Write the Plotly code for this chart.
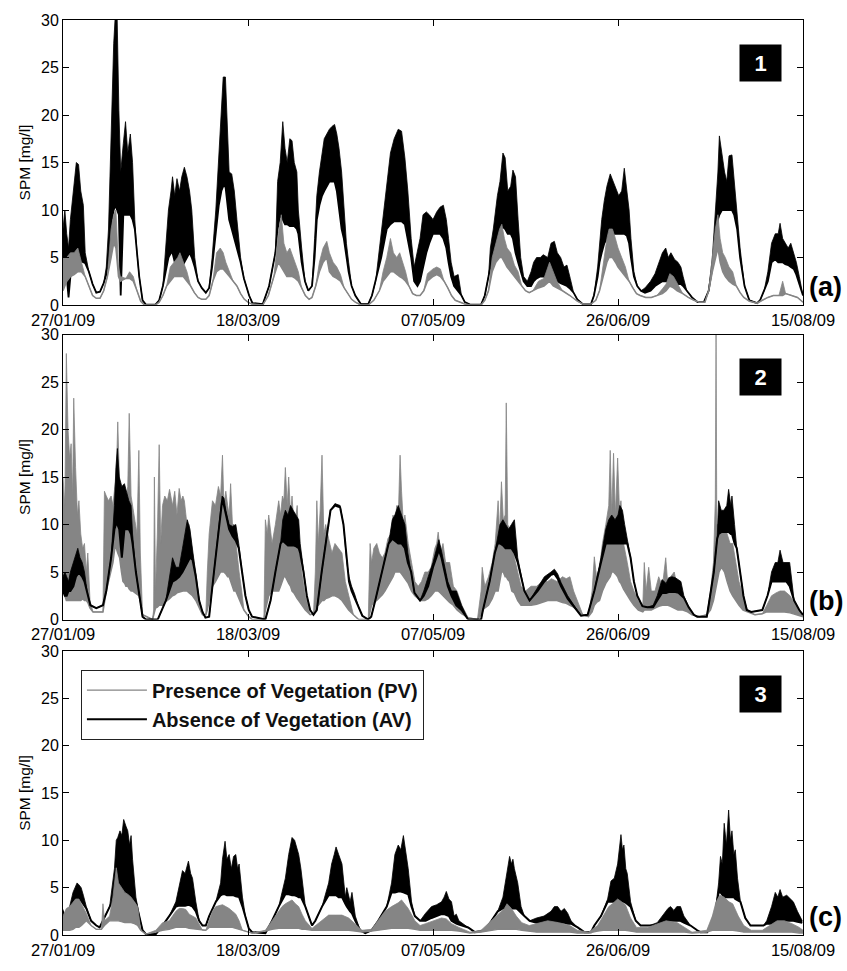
import pandas as pd
import plotly.graph_objects as go

START = pd.Timestamp("2009-01-27")
TICK_DAYS = [0, 50, 100, 150, 200]
TICK_TEXT = ["27/01/09", "18/03/09", "07/05/09", "26/06/09", "15/08/09"]
Y_TICKS = [0, 5, 10, 15, 20, 25, 30]
NAME_PV = "Presence of Vegetation (PV)"
NAME_AV = "Absence of Vegetation (AV)"
PANEL_NUMBERS = ["1", "2", "3"]
PANEL_LETTERS = ["(a)", "(b)", "(c)"]

# (day since 27/01/09, low-water SPM, high-water SPM) in mg/l
p1_av = [(0,4,8),(0.5,3.5,10),(1,3,7.5),(1.5,0.8,6),(2,3,9),(2.5,3.5,11),(3,4,13),(3.6,4.5,15),(4.2,4.5,14.8),(4.8,4.6,12),(5.5,4.5,10.5),(6,4.4,5.5),(7,3.5,3.5),(8,2.2,2.2),(9,1.3,1.3),(10,1.4,1.4),(11,2.3,2.3),(11.7,3.2,4),(12.3,5,8),(12.8,7.5,15),(13.2,9,20),(13.7,10,27.5),(14.2,10.5,31),(14.6,10,31),(15.1,9.5,20.5),(15.6,1,14),(16.3,9.5,17),(16.9,9.5,19.3),(17.5,9.5,16),(18.2,9.5,18),(18.8,9,15),(19.4,8,9),(20,5.5,5.5),(20.6,3,3),(21.5,0.5,0.5),(22.4,0.05,0.05),(25,0.05,0.05),(26,0.5,0.5),(27,2,2),(27.8,3.5,6),(28.5,5,10),(29.2,5.5,12),(29.6,5.5,13.5),(30.2,4.5,11.5),(30.8,4,13.3),(31.5,4,12),(32.1,4,13.5),(32.8,4.5,14.5),(33.5,5,13.5),(34.2,5.5,12),(34.8,5,10),(35.6,4,5),(36.5,2.5,2.5),(37.5,1.8,1.8),(38.6,1.3,1.3),(39.5,1.8,1.8),(40.3,4,5),(41.3,8,10),(42.1,10.5,16),(42.8,12,20),(43.3,12.5,24),(43.9,12.5,24),(44.4,11,18),(44.9,9,14),(45.6,8,13.8),(46.3,7,12),(47,6,9),(48,4.5,5),(48.9,2.8,2.8),(50.3,1,1),(51.2,0.2,0.2),(54,0.1,0.1),(55.7,2,2),(57.4,5.5,5.5),(58,8,13),(58.7,9.5,15),(59.4,9,19.3),(60,8.5,16.5),(60.6,8.5,15),(61.3,8.3,17.5),(61.9,8.3,17.3),(62.5,8.3,15),(63.2,8,14),(63.6,7.5,10),(64.5,4.5,6),(65.4,2.5,2.5),(66.3,1.5,1.5),(67.3,2,2),(68,5,7),(68.6,9,11.5),(69.3,10.5,14),(70,11.5,16),(70.6,12,17.5),(71.3,12.5,18),(72,13,18.5),(72.7,13,18.8),(73.4,13,19),(74,12,18),(74.6,10,16.5),(75.3,8,14),(75.9,7,10),(76.6,5,6.5),(77.2,3.5,4.5),(78,2,2),(79,1,1),(80.5,0.1,0.1),(82.5,0.1,0.1),(83.5,1,1),(84.5,2.5,2.5),(86,5,7.5),(87.5,8,13),(88.5,8.5,16),(89.5,8.8,17.5),(90.6,8.8,18.5),(91.5,8.8,18.3),(92.4,8.5,15.5),(93.2,7,12),(94.1,5,7),(94.9,2.5,4),(95.8,2,5.5),(96.5,2.5,7),(97.3,4,9.5),(98.2,5.5,9.8),(99,6.5,9.5),(100,7.5,9),(101,7.5,9.8),(101.9,7.5,10.3),(102.8,7,10.5),(103.6,6,9),(104.2,4.5,7),(104.9,3,4.5),(105.7,2,3),(106.8,1.5,3.2),(107.7,1,1),(108.6,0.3,0.3),(110,0.05,0.05),(113,0.05,0.05),(114,1,1),(115,3,3),(115.5,4,6),(116.3,5.5,8),(117.4,7,11.5),(118.1,8,13),(118.9,8.2,16),(119.5,8,15.5),(120.2,7.5,12),(121,7.5,12.5),(121.6,7,14.2),(122.3,5.5,13.5),(123,4.5,9),(123.7,3.5,5),(124.5,2.5,3),(125.5,2,2.5),(126.5,2,3.5),(127.2,2.5,4.5),(128,2.8,5),(129,3,5),(129.8,3,5.3),(131,2.8,5),(131.9,2.5,6.5),(132.8,2.5,6.7),(133.6,2.5,5.5),(134.5,2.3,5),(135.4,2.1,4),(136.2,2,4.2),(137.1,1.7,2.8),(138,1.3,1.3),(139,0.6,0.6),(140.5,0.1,0.1),(142.7,0.1,0.1),(143.5,1,1),(144.5,3,4),(145,4.5,6.5),(145.6,5.5,9),(146.3,6.5,11),(147,7,12.5),(147.9,7.5,13.8),(148.7,7.5,13),(149.4,7.5,12.5),(150.2,7.5,11.5),(151,7.5,12),(151.7,7.5,14.4),(152.4,7.3,12),(153,6.5,10),(153.5,5,7),(154.3,3,3.5),(155.2,2,2),(156.2,1.5,1.5),(157.3,1.3,1.8),(158.8,1.5,2.5),(160,2,3.3),(161.1,2.3,4.5),(162,2.5,5.5),(162.9,2.5,6),(163.6,2.5,5),(164.3,2.5,5.5),(165.3,2.3,4.8),(166.2,2.2,4.5),(167,2.2,4),(167.6,2,3),(168.6,1.5,1.5),(170,0.8,0.8),(171.5,0.3,0.3),(173.2,0.3,0.3),(174.5,1.5,1.5),(175.5,4,5),(176.3,7,10),(177,9,14),(177.4,9.5,17.8),(178.1,10,16),(178.8,10,14),(179.4,10,13),(180,10,15.7),(180.8,10,15.8),(181.4,9.5,13),(182.2,8,10),(183,5,6),(184.2,2,2),(185.5,0.5,0.5),(187.6,0.2,0.2),(188.4,0.5,0.5),(189.5,1.5,1.5),(190.5,2.5,3.5),(191.5,4.5,6.5),(192.5,4.8,7.5),(193.3,4.5,7.5),(193.8,4.5,8.6),(194.5,4.5,7),(195.2,4.3,6.5),(196,4.2,6),(196.7,4,6.5),(197.5,3.8,5.5),(198.2,3.2,4.5),(199,2.2,3),(200,1,1)]

p1_pv = [(0,1.5,5),(1,2.5,5),(2,3,5.5),(3,3.2,5.5),(4,3.5,6),(5,3.5,4.5),(6,3,3),(7,2,2),(8,1,1),(9,0.7,0.7),(10,0.7,0.7),(11,1.5,1.5),(12,3,3),(13,5,8),(13.7,6.5,9.5),(14.3,6,10),(15,3,4),(15.5,2.5,3),(17,2.8,2.8),(18,2.8,3.5),(19,2.5,3),(20,1.5,1.5),(21,0.4,0.4),(22,0,0),(25,0,0),(26,0.3,0.3),(27,1,1),(28,2,2),(29,2.5,4),(30,3,4.5),(31,3,5),(31.6,3,5.5),(32.5,3,4.5),(33.5,2.5,3.5),(34.5,2,2),(35.5,1.3,1.3),(36.5,0.8,0.8),(37.5,0.6,0.6),(38.6,0.6,0.6),(39.5,1,1),(40.5,2.5,2.5),(41.5,3.5,5.5),(42.5,3.8,6),(43.3,3.8,5.5),(44,3.5,4.5),(45,3,3.5),(46,2.5,2.5),(47,2,2),(48,1.2,1.2),(49,0.6,0.6),(50,0.3,0.3),(51,0.1,0.1),(54,0,0),(55.5,1,1),(57,3,3),(58.2,4.5,7.5),(59,4,9.5),(59.7,3.5,6.5),(60.5,3,5.5),(61.3,3,6),(62,3,5.3),(62.8,2.8,4.5),(63.6,2.5,3.5),(64.5,1.8,1.8),(65.5,1,1),(66.5,0.6,0.6),(67.3,0.8,0.8),(68.3,2,2),(69.3,3.5,4.5),(70.3,4.5,6),(71.3,5,6.7),(72,3.5,5.5),(73,3,4.5),(74,2.8,4),(75,2.5,3.2),(76,1.8,1.8),(77,1.2,1.2),(78,0.6,0.6),(79,0.3,0.3),(80.5,0,0),(82.5,0,0),(84,0.5,0.5),(85.5,1.5,1.5),(86.5,2.5,3.5),(87.5,3,5),(88.5,3.5,7),(89.3,3.5,5.5),(90.2,3.2,5),(91,3,5.5),(91.8,2.8,4.5),(92.6,2.5,3.5),(93.5,2,2),(94.5,1.2,1.2),(95.5,1,1),(96.5,1,1),(97.5,1.5,1.5),(98.5,2.5,3.3),(100,3,3.8),(101,3.2,4),(102,3,3.8),(103,2.5,2.5),(104,1.8,1.8),(105,1,1),(106,0.5,0.5),(107.5,0.3,0.3),(108.6,0.1,0.1),(110,0,0),(113,0,0),(114,0.5,0.5),(115,1.5,1.5),(116,3.5,5),(117,4.5,6.5),(118,5,8),(118.6,5,8.5),(119.3,4.5,7),(120,4,6),(121,3.5,5.5),(122,3,4.2),(123,2.5,3.5),(124,2,2),(125,1.5,1.5),(126,1.3,1.3),(127,1.5,1.5),(128.5,1.8,2.5),(130,2,2.8),(131.5,2.5,4.5),(132.5,2,3.5),(133.5,1.8,2.5),(135,1.5,1.5),(137,1,1),(139,0.4,0.4),(140.5,0.1,0.1),(142.7,0.1,0.1),(144,0.5,0.5),(145,1.5,1.5),(146,3,4.5),(147,4.5,7),(147.6,5,8),(148.5,5,8),(149.3,4.5,7),(150,4,6),(151,3.5,5),(152,3,4),(153,2.5,2.5),(154,1.8,1.8),(155,1.2,1.2),(156,1,1),(157.5,0.8,0.8),(159,0.8,0.8),(160.5,1,1),(162,1.2,1.7),(163,1.5,2.2),(164,2,3.3),(165,1.8,3),(166,1.5,2.3),(167.5,1.2,1.2),(169,0.8,0.8),(170.5,0.5,0.5),(172,0.3,0.3),(173.5,0.3,0.3),(174.5,1.5,1.5),(175.5,3.5,5),(176.3,5,8),(177,6,9.5),(177.6,4.5,7),(178.3,3.5,5.5),(179,3,5),(180,2.5,4),(181,2.2,3.5),(182,2,2),(183,1.3,1.3),(184,0.8,0.8),(185.5,0.4,0.4),(187.6,0.2,0.2),(189,0.5,0.5),(190.5,0.8,0.8),(192,1,1),(193.5,1,1),(194.5,1,2.5),(195.3,1.2,1.2),(197,1,1),(198.5,0.8,0.8),(200,0.3,0.3)]

p2_av = [(0,3,4.5),(0.5,2.5,5),(1,2.5,4.5),(1.5,3,4),(2,3,5),(2.8,3.5,6),(3.5,4.5,7),(4,4.8,7.5),(4.6,4.8,6.5),(5.2,4.5,6),(5.8,4,5),(6.5,3,3),(7.4,1.5,1.5),(9,1.2,1.2),(10.8,1.5,1.5),(11.7,3,3),(13,6.5,6.5),(13.9,9.5,12),(14.3,10,16),(14.7,10,18),(15.2,9.5,15),(15.9,6.5,14),(16.6,9.5,14.3),(17.1,9.5,13.5),(17.8,9.5,12.5),(18.4,9,12),(18.8,8,9),(19.7,5,5),(20.6,2.5,2.5),(21.5,0.3,0.3),(22.4,0,0),(25.6,0,0),(27.8,2,2),(29.6,4,6.5),(30.5,4.2,5.5),(31.4,4.5,5.5),(32.3,5,7.5),(33,5.5,9),(33.6,6,10.5),(34.3,6.5,9.5),(35,6.3,7.5),(35.9,4.5,4.5),(36.8,2,2),(37.7,0.8,0.8),(38.5,0.2,0.2),(39.5,0.3,0.3),(40.8,5,5),(42.1,9.5,9.5),(43,12.5,13),(43.5,12,12.8),(44,11,11.5),(44.9,9.5,10),(45.8,8.8,9.8),(46.7,8.3,10),(47.5,7.5,8),(48.4,5,5),(49.3,2.5,2.5),(50.2,1,1),(51.1,0.3,0.3),(54.7,0,0),(56.1,2,2),(57.4,5,5),(58.8,8,8),(59.4,8.3,10.5),(60.1,8,11.5),(60.8,7.8,11),(61.5,7.8,12),(62.2,7.8,11.5),(63,7.7,11),(63.7,7.5,10.5),(64.1,7,8),(65,5,5),(65.9,2.5,2.5),(66.8,1,1),(67.7,0.5,0.5),(68.6,1,1),(69.9,5,5),(71.3,9,9),(72.3,11.5,11.5),(73.5,12,12.2),(74.9,11.8,12),(75.8,10,10),(76.7,6,6),(77.3,4,4.5),(78,3,3.5),(78.8,2.3,2.7),(80,1.2,1.2),(80.9,0.4,0.4),(82.5,0,0),(83.3,0.3,0.3),(84.4,2,2),(86.2,5,5),(88,8,8),(89,8.5,10.5),(89.7,8.3,11),(90.6,8,12),(91.5,8,11),(92.4,7.5,10),(93.2,6,7),(94.1,5,5),(95,2.8,2.8),(96.5,2,2),(97.5,2.5,3),(98.7,3.5,4.5),(100,5.5,6),(101,6.5,7.5),(101.6,7.3,8.4),(102.3,6.5,7.2),(103.1,5,5.5),(104,3.5,4),(105,2.5,3),(106.3,1.5,3),(107.7,1,1.5),(109.5,0,0),(113,0,0),(113.5,1,1),(115.3,4,4),(116.7,7,7),(117.5,8,9),(118.1,8,10),(118.9,7.8,10.5),(119.6,7.5,10),(120.4,7.5,9.5),(121.2,7.5,10),(122,7,10.5),(122.9,6,6.5),(124.7,3,3),(126.1,2,2),(128.3,3,3.3),(130.1,4,4.5),(131.9,4.7,5),(132.8,4.8,5.3),(133.7,4.3,4.8),(134.6,3.5,3.9),(136.4,2.2,2.5),(138.2,1.3,1.5),(140,0.4,0.4),(141.8,0.5,0.5),(143.6,3,3),(145.4,6,6.5),(146.7,8,9.5),(147.5,8,10.5),(148.3,8,11),(149.2,8,10.5),(150,8,11),(150.5,8,12),(151.2,8,11.5),(151.8,8,10),(152.5,8,8.5),(153.4,6.5,6.5),(154.3,4,4),(155.2,2.5,2.5),(156.6,1.4,1.4),(157.9,1.3,1.3),(159.5,1.3,1.5),(160.6,2,2.5),(161.9,2.8,4.2),(163,2.8,3.8),(163.7,2.9,4.4),(164.6,2.9,4.5),(165.5,2.9,4.4),(166.4,2.8,4.2),(167,2.6,4),(167.8,2.3,2.5),(169.1,1.3,1.3),(170.5,0.5,0.5),(171.4,0.3,0.3),(174,0.3,0.3),(174.5,1.5,1.5),(175.9,5,5),(176.8,8.5,8.5),(177.2,9,12.5),(177.9,9.2,11.5),(178.6,9.2,11.5),(179.4,9.2,12),(179.9,9.2,13.7),(180.5,9,12),(180.8,9,13),(181.5,8,10),(182.1,7.5,7.5),(183,5,5),(183.9,2.5,2.5),(184.8,1,1),(186,0.8,0.8),(189,1,1),(190.4,2.5,2.5),(191.5,4,5),(192.5,4,6),(193.2,4,6),(193.8,4,7.3),(194.6,4,6),(195.5,4,6),(196.4,3.5,6),(197.6,2,2),(199,1,1),(200,0.5,0.5)]

p2_pv = [(0,5,15),(0.5,2.5,12),(0.9,2,28),(1.35,2,20),(1.8,2,17),(2.2,2,18.5),(2.6,2,13),(2.9,2,23.3),(3.4,2,16),(3.9,2,11),(4.3,2,12.5),(4.8,2,9),(5.3,2.2,7.5),(5.8,2,8),(6.3,2,5),(6.7,1.8,7),(7.3,1.2,2),(8.1,0.8,0.8),(10.8,0.8,0.8),(11.2,2,13.5),(11.7,3,13),(12.3,4,12.5),(13,5,13),(13.5,6,12),(14,7.5,14),(14.4,7.5,15),(14.8,7,20.8),(15.3,6.5,14),(15.8,5,13),(16.2,4,12),(16.7,3.8,13),(17,3.5,12.5),(17.5,3.5,14),(17.9,3.2,21.7),(18.4,3,13),(18.8,3,12),(19.5,2.8,10),(20,2.6,9),(20.5,2.5,17.8),(20.9,2,7),(21.5,0.5,0.5),(24.2,0,0),(24.5,0.5,1),(24.7,1,15),(25,1.2,3),(25.5,1.3,9),(26,1.5,18.4),(26.4,1.5,8),(26.9,1.5,12),(27.5,1.8,13),(28.2,2,12.5),(28.8,2.2,13.7),(29.6,2.5,12),(30.2,2.6,13.5),(30.8,2.8,11),(31.4,2.9,13.8),(31.9,3,12.5),(32.4,3,13),(32.8,3,12.5),(33.5,3,10),(34.1,2.8,10),(35,2.5,7),(35.9,2,5),(36.8,1.2,2),(37.7,0.5,0.5),(38.6,0.5,0.5),(39,1,5),(39.5,2,9),(40,3,11),(40.4,3.5,12.5),(41.2,4,12),(42,4.5,14),(42.6,5,13),(43.1,5,17.3),(43.5,5,12),(44,4.8,13.5),(44.5,4.5,12),(44.9,4.5,11),(45.3,4,14.3),(45.8,3.5,10),(46.2,3,10),(46.7,3,8),(47.2,2.5,6),(47.6,2,5),(48.3,1.5,3),(48.9,1,1),(50.2,0.3,0.3),(51.1,0,0),(54.3,0,0),(54.7,1,10.5),(55.2,2,9),(55.6,2.5,11),(56.5,3,8),(57.4,3,10),(58.3,3,12.5),(58.8,3.5,11),(59.3,4,13),(59.7,4.5,12.5),(60.1,4.5,16),(60.6,4,12),(61,3.8,15),(61.5,3.5,11),(61.9,3,13),(62.4,2.8,10),(62.8,2.5,10.5),(63.3,2.2,12),(63.7,2,8),(64.5,1.5,5),(65.5,1,2.5),(66.8,0.5,0.5),(67.7,0.6,0.6),(68.2,1,5),(68.6,1.5,12.5),(69,1.5,8),(69.5,1.8,11.5),(70,2,17.3),(70.5,2,9),(71,2.2,10),(71.8,2.3,8.5),(72.7,2.5,7),(73.5,2.5,8),(74.5,2.3,7.5),(75.4,2,7),(76.3,1.5,4),(77.2,1,2.5),(78.5,0.5,0.5),(79.9,0,0),(82.5,0,0),(83,1,8),(83.4,1.5,6),(84,1.8,7.5),(84.8,2,8),(85.5,2.3,7),(86.3,2.6,6.5),(87,3,7),(87.8,3.5,8.5),(88.6,4,9),(89.2,4.5,11),(89.7,5,10),(90.2,5,12),(90.6,5,10.5),(91.1,5,17.3),(91.5,4.8,13.5),(92,4.5,10),(92.4,4.2,11),(92.9,4,9),(93.3,3.8,8),(94.2,3,6),(95.1,2.5,4),(96,2.2,3.5),(96.9,2,4),(97.8,2,5),(98.7,2.2,5),(99.5,2.5,5.5),(100.5,3,7.5),(101,3,8),(101.4,3,9.2),(102,2.8,7),(102.7,2.5,8),(103.4,2.2,6),(104.5,1.8,6),(105.5,1.5,3.5),(106.5,1,3),(107.8,0.6,1.5),(109.5,0.2,0.2),(112,0,0),(113,0.5,3),(113.3,1,5.5),(114,1.2,3.5),(115,1.5,4.5),(116,2.2,6),(116.8,3,8),(117.6,3,12.5),(118,4,9),(118.5,5,14.5),(119,5,10.5),(119.5,4.5,11),(119.8,4.5,22.8),(120.2,4.2,10),(120.7,4,9.5),(121.3,3,8),(122,2.8,6.5),(122.9,2,5),(123.8,1.5,3.5),(125,1.5,3),(126.5,1.5,3.5),(128,1.6,3.5),(129.5,1.8,4),(131,2,4),(132,2,4.3),(133.5,2,4),(135,1.8,4.5),(136,1.7,4.3),(137,1.5,4.5),(138,1.3,3),(139,1,2),(140.5,0.5,0.5),(142,0.3,0.3),(143,0.8,3),(143.6,1.5,6.6),(144.2,1.8,4.5),(145,2,5.5),(145.8,3,8),(146.7,3.8,10),(147.5,4.2,12),(147.9,4.5,17.8),(148.3,5,11),(148.8,5,17.5),(149.3,4.8,11),(149.9,4.5,17),(150.4,4,11.5),(150.8,3.8,12.5),(151.5,3.2,8),(152.5,2.5,6),(153.4,2,4),(154.3,1.5,3),(155.5,1,2),(156.7,0.8,1.5),(157.1,1,6),(157.6,1,3),(158.3,1,5.5),(159,1,3),(160,1.2,3),(161,1.4,4.5),(162,1.5,3.5),(162.9,1.5,6.5),(163.5,1.5,3.5),(164.2,1.4,4.5),(165.2,1.2,5),(166.2,1,3),(167.5,1,2.5),(168.8,0.8,1.5),(170,0.5,0.5),(172,0.3,0.3),(174,0.5,0.5),(175,1,3),(175.8,2,6),(176.3,3,12.5),(176.5,3.5,30),(176.7,4,10),(177.3,5,10),(178,5.5,9.5),(178.8,5,10),(179.5,4,9),(180.3,3,8),(181,2.5,8),(181.8,2,6),(182.7,1.5,4),(183.8,1,2.5),(185,0.8,1),(187,0.5,0.5),(189,0.6,0.6),(190.2,0.8,1.5),(191.5,0.8,2.5),(192.7,0.8,2.8),(193.8,0.8,3),(195,0.8,3),(196.5,0.7,2.5),(198,0.5,1.5),(200,0.3,0.5)]

p3_av = [(0,2.5,2.7),(0.45,1.5,1.8),(1.2,2,2.3),(1.8,2.5,3),(2.7,3.5,4.5),(3.3,3.8,5),(3.8,3.8,5.5),(4.3,3.8,5.3),(4.9,3.6,5),(5.5,3.2,4.2),(6.3,2.8,3),(7.6,1.5,1.5),(9,1,1),(9.9,0.8,0.8),(10.8,1.5,1.5),(12.6,3,3),(13.9,4,7),(14.4,4.2,10),(14.8,4.2,10.3),(15.4,4.1,11),(15.9,4,10.5),(16.4,4,12.2),(17,4,11.5),(17.5,4,11),(18,4,9.5),(18.4,4,10.5),(18.8,3.8,8),(19.7,3.5,4),(20.6,2,2),(21.5,0.5,0.5),(22.4,0.1,0.1),(25.1,0.1,0.1),(26.9,1,1),(28.7,2,2),(30.5,3,3.5),(31.5,3.1,5.5),(32.3,3.1,6.8),(33,3.1,6.5),(33.9,3.2,7.8),(34.5,3.1,6.5),(35,3,6),(35.9,2.5,3.5),(36.8,1.5,1.5),(37.7,1,1),(38.6,1,1),(39.5,2,2),(41.3,3.5,3.5),(42.6,4.2,5.5),(43.1,4.3,8),(43.8,4.3,9.9),(44.3,4.2,8),(44.9,4.2,8.5),(45.5,4.2,7),(46.1,4.2,8.3),(46.7,4.1,8.5),(47.2,4,7),(47.6,4,7.5),(48.5,3,4),(49.3,2,2),(50.2,0.7,0.7),(51.1,0.3,0.3),(54.7,0.2,0.2),(56.5,1.5,1.5),(58.3,3,3),(60.1,4.3,6),(61,4.3,8.5),(61.9,4.2,10.3),(62.6,4.2,10),(63.2,4.1,9),(63.7,4,8.5),(64.3,4,7),(65,3.5,4.5),(65.5,3,3),(66.4,2,2),(67.3,1,1),(68.2,1.5,1.5),(70,3,3),(71.8,4.2,5.5),(72.6,4.2,7.5),(73.3,4.2,8.5),(73.8,4.2,9.3),(74.5,4,8.5),(75.4,4,7.5),(76.3,3.3,4),(76.7,3,5),(77.6,2.5,3.5),(78.1,2.3,4.5),(79,1.5,2),(80.3,0.5,0.5),(81.7,0.2,0.2),(83.4,0.5,0.5),(85.2,1.5,1.5),(87.5,3,3),(88.8,4.5,5.5),(89.7,4.5,8.5),(90.6,4.6,9.5),(91.3,4.6,9),(92,4.5,10.5),(92.7,4.4,8.5),(93.3,4.3,7),(94.2,3,3.5),(95.1,2,2),(96.5,1.5,1.5),(98,1.5,2.3),(99.6,1.8,3),(101,2,3.2),(102.3,2.2,3.5),(103,2.2,4),(103.6,2.1,4.6),(104.3,2,3.8),(105,1.5,3.5),(105.7,1.3,2),(106.3,1.2,2.2),(107,1.1,1.5),(109.5,0.8,0.8),(111.3,0.3,0.3),(114,0.5,0.5),(115.8,1.5,1.5),(117.5,2.5,2.5),(118.9,2.8,4),(119.5,2.8,5.5),(120.2,2.8,7),(120.7,2.8,8.3),(121.2,2.8,7.5),(121.6,2.8,8),(122,2.8,7),(122.5,2.8,6),(122.9,2.7,5.5),(123.8,2.3,3),(124.7,2,2),(126.1,1.5,1.5),(128,1.3,1.8),(130,1.3,2),(131.9,1.4,2.5),(132.8,1.4,3),(133.7,1.4,3),(134.6,1.3,2.5),(135.5,1.3,2.8),(136.4,1.2,2.3),(137.3,1.2,1.5),(139.1,0.8,0.8),(140.9,0.3,0.3),(142.7,0.3,0.3),(143.6,1,1),(145.4,2,2),(147.2,3.5,3.8),(148.1,3.5,5.7),(149,3.5,6),(149.9,3.5,7.5),(150.4,3.5,9),(150.8,3.5,10.6),(151.2,3.5,9),(151.6,3.5,9.5),(152.1,3.4,7),(152.5,3.3,6.5),(153.4,3,3.5),(154.8,1.5,1.5),(156.1,1,1),(158.5,1,1),(160.6,1,1.3),(162.4,1.3,2.2),(163.5,1.5,2.8),(164.2,1.5,3),(165.1,1.5,2.6),(165.9,1.5,3),(166.9,1.5,3),(167.8,1.3,2),(169.6,1,1),(171.4,0.5,0.5),(172.3,0.3,0.3),(174.1,0.3,0.3),(175,1,1),(176.3,2.5,2.5),(177.2,4.5,5.5),(177.7,4.5,8.3),(178.2,4.2,7.5),(178.7,4,11.8),(179.3,4,9.5),(179.9,4,13.2),(180.4,4,10),(180.8,4,11),(181.3,4,8.5),(181.7,3.8,9),(182.3,3.7,6),(183.1,3.5,3.5),(184.4,1.8,1.8),(185.8,1,1),(189.3,1,1),(190.2,1.2,1.5),(191.5,1.2,3),(192.5,1.3,4.5),(193.2,1.3,4),(193.8,1.4,4.8),(194.5,1.4,4),(195.6,1.5,4.2),(196.5,1.5,3.8),(197.4,1.5,3.5),(198.5,1.4,2.5),(199.8,1.3,1.5)]

p3_pv = [(0,0.5,2),(0.9,0.5,2.8),(1.8,0.5,3),(2.7,0.6,3.5),(3.4,0.8,3.8),(4.3,0.8,3.8),(5,1,3.3),(6.3,1.5,2.3),(7.6,1,1),(9,0.6,0.6),(10.4,0.6,0.6),(10.8,0.8,3.3),(11.2,1,1.5),(12.6,1.5,2),(13.5,1.5,4),(14.4,1.5,7.1),(15,1.5,5.5),(15.8,1.4,5),(16.7,1.3,4.5),(17.5,1.3,4.3),(18.4,1.3,4),(19.3,1.2,3.5),(20.2,1,3),(21,0.5,0.5),(22.4,0.1,0.1),(25.1,0.3,0.5),(26.9,0.5,1.3),(28.7,0.6,1.5),(29.6,0.7,2),(30.5,0.8,2.5),(31.4,0.8,2.8),(32.3,0.8,2.8),(33.2,0.8,2.7),(34.1,0.7,2.2),(35.9,0.6,1.8),(37.7,0.5,0.5),(38.6,0.5,0.5),(39.5,0.8,1.5),(40.4,0.8,2.5),(41.3,0.8,3),(42.2,0.8,3.1),(43.1,0.8,3.2),(44,0.8,3),(44.9,0.8,2.8),(45.8,0.8,2.5),(46.7,0.7,2.2),(47.6,0.6,1.5),(48.5,0.5,0.5),(51.1,0.2,0.2),(54.7,0.4,0.5),(56.5,0.6,1.5),(58.3,0.7,2.5),(59.2,0.7,3),(60.1,0.7,3.3),(61,0.7,3.5),(61.9,0.7,3.7),(62.8,0.7,3.3),(63.7,0.7,3),(64.6,0.6,2.2),(65.5,0.6,1.5),(67.3,0.5,0.7),(68.2,0.5,1),(70,0.5,1.5),(71.8,0.5,2.1),(73.6,0.5,2.1),(75.4,0.5,2.1),(77.2,0.5,1.8),(79,0.4,1.2),(80.8,0.3,0.5),(83.4,0.4,0.6),(85.2,0.5,1.5),(87,0.6,2.5),(88.8,0.7,3),(90.6,0.7,3.4),(91.5,0.7,3.7),(92.4,0.7,3.3),(93.3,0.7,2.8),(95.1,0.6,1.5),(96.5,0.5,1),(98,0.5,1.2),(100,0.5,1.5),(102.3,0.5,1.8),(103.6,0.5,1.7),(105,0.5,1.2),(107,0.4,0.8),(110,0.2,0.3),(113,0.3,0.5),(115.8,0.5,1.5),(117.5,0.6,2.2),(119.3,0.6,2.8),(120,0.6,3.3),(121.2,0.6,2.8),(122.5,0.6,2),(124,0.5,1.3),(126,0.4,1),(128,0.3,1.2),(131,0.3,1.5),(134,0.3,1.3),(137,0.3,1),(139,0.2,0.5),(142,0.2,0.3),(144.5,0.4,1),(146,0.5,2),(147.5,0.5,3),(148.5,0.5,3.3),(149.9,0.5,3.8),(151,0.5,3.5),(152,0.5,3.2),(153.4,0.4,1.8),(155,0.3,0.8),(158,0.3,0.8),(160.6,0.3,1.2),(163,0.3,1.5),(166,0.3,1.3),(168,0.3,0.8),(170,0.2,0.3),(174,0.3,0.5),(175.5,0.5,2),(176.5,0.5,3.5),(177.5,0.5,4.2),(178.7,0.5,4),(180,0.5,3.5),(181,0.5,3.3),(182.5,0.4,2),(184,0.3,1),(186,0.3,0.5),(189,0.3,0.5),(191,0.3,1),(193,0.3,1.5),(195,0.3,1.5),(197,0.3,1.2),(199,0.2,0.8),(200,0.2,0.5)]

GRAY = "#858585"
BLACK = "#000000"
FONT = "Liberation Sans"

def to_dates(days):
    return [START + pd.Timedelta(days=float(d)) for d in days]

fig = go.Figure()

def add_series(rows, panel, color, width, name, rank, legend):
    days = [r[0] for r in rows]
    low = [r[1] for r in rows]
    high = [r[2] for r in rows]
    x = to_dates(days)
    xa = "x" if panel == 1 else f"x{panel}"
    ya = "y" if panel == 1 else f"y{panel}"
    fig.add_trace(go.Scatter(x=x, y=low, mode="lines", line=dict(color=color, width=width),
                             xaxis=xa, yaxis=ya, name=name, legendrank=rank,
                             showlegend=legend, hoverinfo="skip"))
    fig.add_trace(go.Scatter(x=x, y=high, mode="lines", line=dict(color=color, width=0.8),
                             fill="tonexty", fillcolor=color,
                             xaxis=xa, yaxis=ya, showlegend=False, hoverinfo="skip"))

# panel 1: PV drawn over AV
add_series(p1_av, 1, BLACK, 1.8, NAME_AV, 2, False)
add_series(p1_pv, 1, GRAY, 1.5, NAME_PV, 1, False)
# panel 2: AV drawn over PV
add_series(p2_pv, 2, GRAY, 1.5, NAME_PV, 1, False)
add_series(p2_av, 2, BLACK, 2.0, NAME_AV, 2, False)
# panel 3
add_series(p3_av, 3, BLACK, 2.0, NAME_AV, 2, True)
add_series(p3_pv, 3, GRAY, 1.3, NAME_PV, 1, True)

H = 931.0
domains = {1: [(947 - 306) / H, 1.0], 2: [(947 - 626) / H, (947 - 336) / H], 3: [0.0, (947 - 658) / H]}

tick_dates = to_dates(TICK_DAYS)
x_range = [tick_dates[0], tick_dates[-1]]

layout = dict(
    width=847, height=971,
    margin=dict(l=63, r=41, t=16, b=24),
    paper_bgcolor="white", plot_bgcolor="white",
    font=dict(family=FONT, color="black", size=16),
    showlegend=True,
    legend=dict(x=(81 - 63) / 743.0, y=(947 - 677) / H, xanchor="left", yanchor="top",
                traceorder="normal", itemwidth=60,
                bgcolor="white", bordercolor="#222222", borderwidth=1,
                font=dict(family=FONT, size=20, color="#111111", weight="bold"),
                tracegroupgap=0),
)

for p in (1, 2, 3):
    xk = "xaxis" if p == 1 else f"xaxis{p}"
    yk = "yaxis" if p == 1 else f"yaxis{p}"
    ya = "y" if p == 1 else f"y{p}"
    xa = "x" if p == 1 else f"x{p}"
    layout[xk] = dict(type="date", range=x_range, domain=[0, 1], anchor=ya,
                      tickmode="array", tickvals=tick_dates, ticktext=TICK_TEXT,
                      ticks="inside", ticklen=6, tickcolor="black",
                      showline=True, linecolor="black", linewidth=1, mirror="ticks",
                      showgrid=False, zeroline=False,
                      tickfont=dict(family=FONT, size=16.5, color="black"))
    layout[yk] = dict(range=[0, 30], domain=domains[p], anchor=xa,
                      tickmode="array", tickvals=Y_TICKS,
                      ticks="inside", ticklen=6, tickcolor="black",
                      showline=True, linecolor="black", linewidth=1, mirror="ticks",
                      showgrid=False, zeroline=False,
                      tickfont=dict(family=FONT, size=16, color="black"),
                      title=dict(text="SPM [mg/l]", font=dict(family=FONT, size=15.5, color="black"), standoff=6))

fig.update_layout(**layout)

for i, p in enumerate((1, 2, 3)):
    xa = "x" if p == 1 else f"x{p}"
    ya = "y" if p == 1 else f"y{p}"
    fig.add_annotation(x=START + pd.Timedelta(days=188.5), y=25.5, xref=xa, yref=ya,
                       text=f"<b>{PANEL_NUMBERS[i]}</b>", showarrow=False,
                       bgcolor="black", width=41, height=36, borderpad=0,
                       font=dict(family=FONT, size=22, color="white"))
    fig.add_annotation(x=1.005, y=1.9, xref="paper", yref=ya, xanchor="left", yanchor="middle",
                       text=f"<b>{PANEL_LETTERS[i]}</b>", showarrow=False,
                       font=dict(family=FONT, size=27, color="black"))

fig.write_html("out.html")
